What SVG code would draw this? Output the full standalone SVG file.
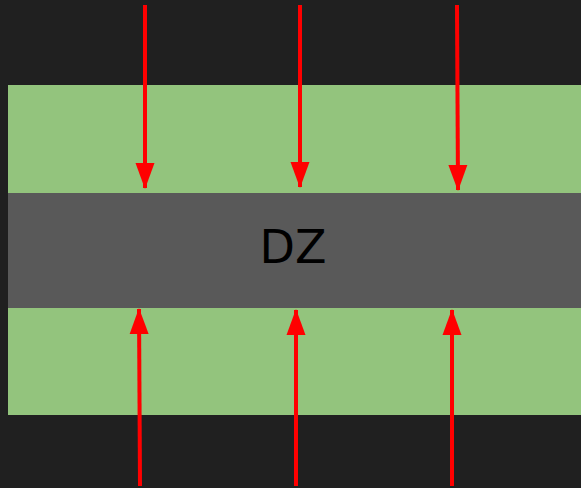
<svg xmlns="http://www.w3.org/2000/svg" width="581" height="488" viewBox="0 0 581 488">
<style>
.band{fill:#93c47d}
.conn{stroke:#ff0000;stroke-width:4;fill:none}
.lbl{font-family:"DejaVu Sans",sans-serif;font-size:46px;fill:#000}
</style>
<defs>
<marker id="ah" markerUnits="userSpaceOnUse" markerWidth="26" markerHeight="20" refX="25" refY="10" orient="auto">
<path d="M0,0.5 L26,10 L0,19.5 Z" fill="#ff0000"/>
</marker>
</defs>
<rect width="581" height="488" fill="#202020"/>
<g id="top-band"><rect class="band" x="8" y="85" width="573" height="108"/></g>
<g id="bottom-band"><rect class="band" x="8" y="308" width="573" height="107"/></g>
<g id="dz">
<rect x="8" y="193" width="573" height="115" fill="#595959"/>
<text class="lbl" x="293" y="263" text-anchor="middle">DZ</text>
</g>
<g id="connectors">
<line class="conn" x1="145" y1="5" x2="145" y2="188" marker-end="url(#ah)"/>
<line class="conn" x1="300" y1="5" x2="300" y2="187" marker-end="url(#ah)"/>
<line class="conn" x1="457" y1="5" x2="458" y2="190" marker-end="url(#ah)"/>
<line class="conn" x1="140" y1="486" x2="139" y2="309" marker-end="url(#ah)"/>
<line class="conn" x1="296" y1="486" x2="296" y2="310" marker-end="url(#ah)"/>
<line class="conn" x1="452" y1="486" x2="452" y2="310" marker-end="url(#ah)"/>
</g>
</svg>
